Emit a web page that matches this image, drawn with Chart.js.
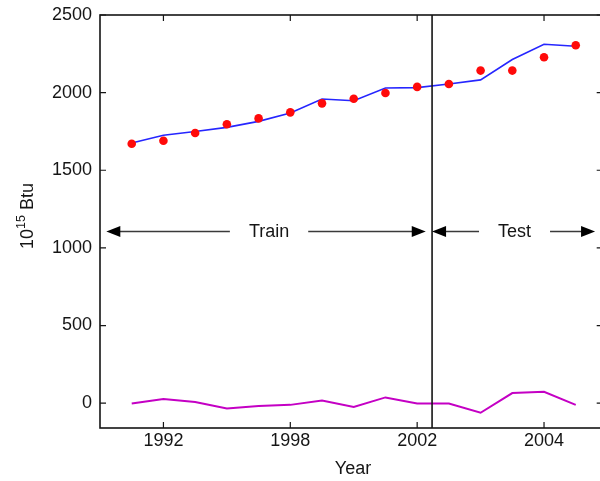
<!DOCTYPE html>
<html>
<head>
<meta charset="utf-8">
<script src="https://cdn.jsdelivr.net/npm/chart.js@4.4.1/dist/chart.umd.min.js"></script>
<style>
  html, body { margin: 0; padding: 0; background: #fff; overflow: hidden; width: 600px; height: 481px; }
  #wrap { width: 607px; height: 481px; }
</style>
</head>
<body>
<div id="wrap"><canvas id="c" width="607" height="481"></canvas></div>
<script>
// Energy consumption series (10^15 Btu), one entry per sample
const sampleIndex = [1, 2, 3, 4, 5, 6, 7, 8, 9, 10, 11, 12, 13, 14, 15];
const observed = [1671, 1690, 1740, 1796, 1834, 1873, 1931, 1961, 1998, 2037, 2056, 2142, 2142, 2228, 2305];
const fitted   = [1675, 1725, 1750, 1776, 1815, 1869, 1959, 1948, 2030, 2032, 2056, 2082, 2213, 2312, 2299];
const residual = [-2, 26, 8, -34, -19, -11, 17, -24, 37, -2, -2, -62, 65, 73, -11];

// Axis ticks
const xTickPositions = [2, 6, 10, 14];
const xTickLabels = ['1992', '1998', '2002', '2004'];
const yTickValues = [0, 500, 1000, 1500, 2000, 2500];

// Train / test split and the labelled spans
const trainTestSplit = 10.47;
const spans = [
  { from: 0.2, to: 10.27, label: 'Train', at: 5.33 },
  { from: 10.47, to: 15.61, label: 'Test', at: 13.07 }
];
const spanLevel = 1105;

const FONT = '"Liberation Sans", Arial, Helvetica, sans-serif';
const INK = '#151515';
const SIZE = 18;

function toPoints(ys) { return sampleIndex.map((x, i) => ({ x: x, y: ys[i] })); }

function arrowHead(ctx, tipX, y, dir) {
  const len = 14, half = 5.5;
  ctx.beginPath();
  ctx.moveTo(tipX, y);
  ctx.lineTo(tipX - dir * len, y - half);
  ctx.lineTo(tipX - dir * len, y + half);
  ctx.closePath();
  ctx.fill();
}

const framePlugin = {
  id: 'frame',
  afterDatasetsDraw(chart) {
    const ctx = chart.ctx;
    const a = chart.chartArea;
    const xs = chart.scales.x, ys = chart.scales.y;
    ctx.save();

    // split marker
    const sx = xs.getPixelForValue(trainTestSplit);
    ctx.strokeStyle = INK;
    ctx.lineWidth = 1.6;
    ctx.beginPath();
    ctx.moveTo(sx, a.top);
    ctx.lineTo(sx, a.bottom);
    ctx.stroke();

    // axes box
    ctx.lineWidth = 1.6;
    ctx.strokeRect(a.left, a.top, a.right - a.left, a.bottom - a.top);

    // inward tick marks on all four sides
    const tl = 6;
    ctx.lineWidth = 1.2;
    ctx.beginPath();
    xTickPositions.forEach(v => {
      const px = xs.getPixelForValue(v);
      ctx.moveTo(px, a.bottom); ctx.lineTo(px, a.bottom - tl);
      ctx.moveTo(px, a.top); ctx.lineTo(px, a.top + tl);
    });
    yTickValues.forEach(v => {
      const py = ys.getPixelForValue(v);
      ctx.moveTo(a.left, py); ctx.lineTo(a.left + tl, py);
      ctx.moveTo(a.right, py); ctx.lineTo(a.right - tl, py);
    });
    ctx.stroke();

    // Train / Test span arrows
    const ay = ys.getPixelForValue(spanLevel);
    ctx.font = SIZE + 'px ' + FONT;
    ctx.textAlign = 'center';
    ctx.textBaseline = 'middle';
    spans.forEach(s => {
      const x0 = xs.getPixelForValue(s.from);
      const x1 = xs.getPixelForValue(s.to);
      const mid = xs.getPixelForValue(s.at);
      const gap = ctx.measureText(s.label).width / 2 + 19;
      ctx.strokeStyle = '#3a3a3a';
      ctx.lineWidth = 1.5;
      ctx.beginPath();
      ctx.moveTo(x0 + 10, ay); ctx.lineTo(mid - gap, ay);
      ctx.moveTo(mid + gap, ay); ctx.lineTo(x1 - 10, ay);
      ctx.stroke();
      ctx.fillStyle = '#000';
      arrowHead(ctx, x0, ay, -1);
      arrowHead(ctx, x1, ay, 1);
      ctx.fillStyle = INK;
      ctx.fillText(s.label, mid, ay + 0.5);
    });

    // x axis title
    ctx.fillStyle = INK;
    ctx.textAlign = 'center';
    ctx.textBaseline = 'alphabetic';
    ctx.font = SIZE + 'px ' + FONT;
    ctx.fillText('Year', 353, 474);

    // y axis title with superscript exponent
    const big = SIZE + 'px ' + FONT, small = '12.5px ' + FONT;
    ctx.font = big; const wBase = ctx.measureText('10').width;
    ctx.font = small; const wExp = ctx.measureText('15').width;
    ctx.font = big; const wUnit = ctx.measureText(' Btu').width;
    const total = wBase + wExp + wUnit;
    ctx.translate(33, 216);
    ctx.rotate(-Math.PI / 2);
    ctx.textAlign = 'left';
    let u = -total / 2;
    ctx.font = big; ctx.fillText('10', u, 0); u += wBase;
    ctx.font = small; ctx.fillText('15', u, -8.5); u += wExp;
    ctx.font = big; ctx.fillText(' Btu', u, 0);

    ctx.restore();
  }
};

new Chart(document.getElementById('c'), {
  type: 'line',
  data: {
    datasets: [
      {
        label: 'Observed',
        data: toPoints(observed),
        showLine: false,
        pointRadius: 4.3,
        pointBorderWidth: 0,
        pointBackgroundColor: '#ff0a0a',
        pointBorderColor: '#ff0a0a'
      },
      {
        label: 'Fitted',
        data: toPoints(fitted),
        borderColor: '#2626ff',
        borderWidth: 1.6,
        pointRadius: 0,
        tension: 0,
        fill: false
      },
      {
        label: 'Residual',
        data: toPoints(residual),
        borderColor: '#c400c4',
        borderWidth: 2,
        pointRadius: 0,
        tension: 0,
        fill: false
      }
    ]
  },
  options: {
    responsive: false,
    animation: false,
    events: [],
    layout: { padding: { left: 0, top: 15, right: 2, bottom: 0 } },
    plugins: { legend: { display: false }, tooltip: { enabled: false } },
    scales: {
      x: {
        type: 'linear',
        min: 0,
        max: 15.85,
        grid: { display: false, drawTicks: false },
        border: { display: false },
        afterBuildTicks: s => { s.ticks = xTickPositions.map(v => ({ value: v })); },
        afterFit: s => { s.height = 53; s.paddingLeft = 0; s.paddingRight = 0; },
        ticks: {
          padding: 2,
          autoSkip: false,
          maxRotation: 0,
          color: INK,
          font: { family: FONT, size: SIZE },
          callback: v => { const i = xTickPositions.indexOf(v); return i >= 0 ? xTickLabels[i] : ''; }
        }
      },
      y: {
        type: 'linear',
        min: -160,
        max: 2500,
        grid: { display: false, drawTicks: false },
        border: { display: false },
        afterBuildTicks: s => { s.ticks = yTickValues.map(v => ({ value: v })); },
        afterFit: s => { s.width = 100; s.paddingTop = 0; s.paddingBottom = 0; },
        ticks: {
          padding: 8,
          color: INK,
          font: { family: FONT, size: SIZE },
          callback: v => String(v)
        }
      }
    }
  },
  plugins: [framePlugin]
});
</script>
</body>
</html>
